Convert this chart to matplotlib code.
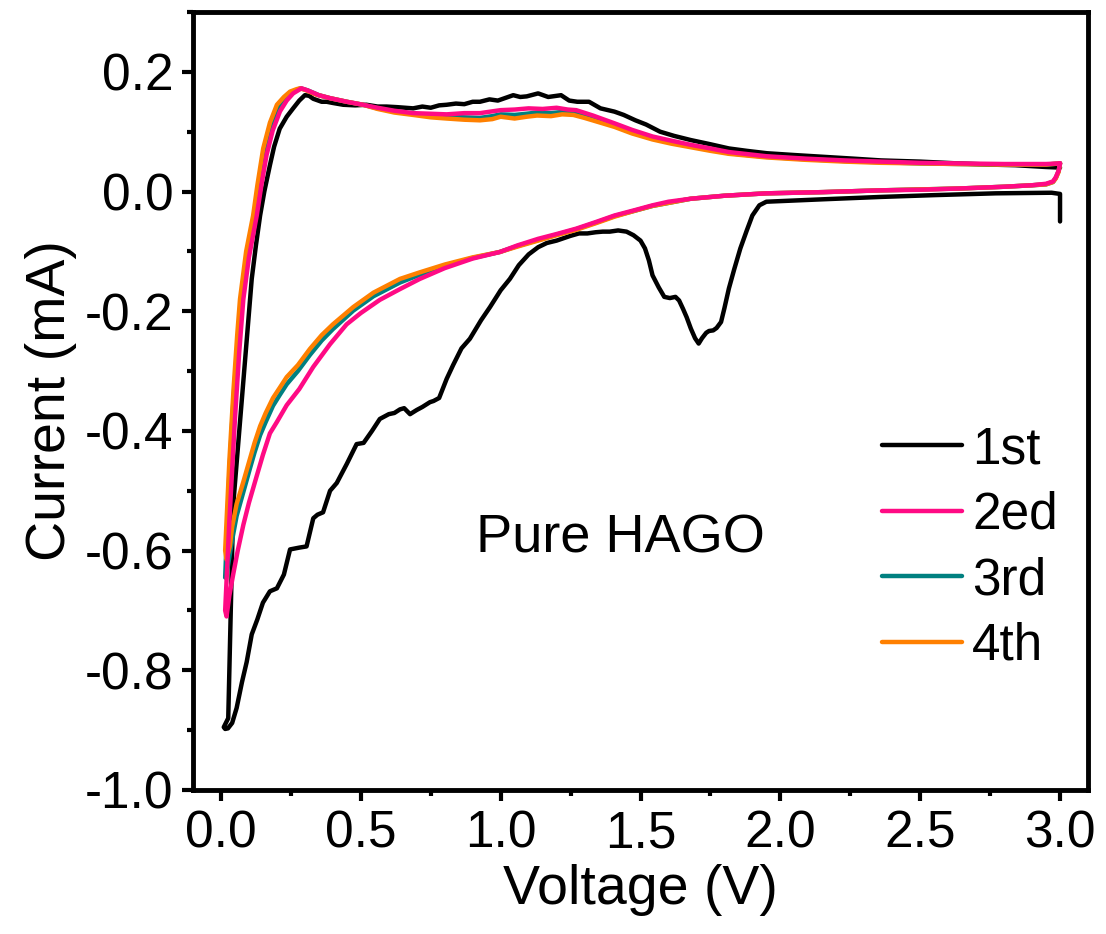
import numpy as np
import matplotlib
matplotlib.use("Agg")
import matplotlib.pyplot as plt
from matplotlib.ticker import MultipleLocator, FormatStrFormatter

plt.rcParams['font.family'] = ['Liberation Sans', 'DejaVu Sans']

labels = ['1st', '2ed', '3rd', '4th']
colors = ['#000000', '#FF0A84', '#008080', '#FF8000']
xticks = [0.0, 0.5, 1.0, 1.5, 2.0, 2.5, 3.0]
yticks = [-1.0, -0.8, -0.6, -0.4, -0.2, 0.0, 0.2]

# (voltage V, current mA), one full sweep per cycle
cycle1 = [
    (3.00, -0.050), (3.00, -0.004), (2.97, -0.002), (2.77, -0.003), (2.55, -0.006),
    (2.36, -0.009), (2.15, -0.013), (1.95, -0.017), (1.925, -0.023), (1.90, -0.040),
    (1.88, -0.065), (1.857, -0.095), (1.835, -0.130), (1.816, -0.162), (1.80, -0.195),
    (1.788, -0.218), (1.772, -0.228), (1.76, -0.232), (1.745, -0.233), (1.735, -0.236),
    (1.72, -0.245), (1.708, -0.254), (1.695, -0.245), (1.68, -0.229), (1.665, -0.210),
    (1.652, -0.196), (1.638, -0.182), (1.625, -0.176), (1.605, -0.178), (1.585, -0.176),
    (1.565, -0.160), (1.543, -0.140), (1.53, -0.115), (1.516, -0.095), (1.50, -0.082),
    (1.475, -0.073), (1.45, -0.067), (1.42, -0.065), (1.39, -0.067), (1.365, -0.067),
    (1.34, -0.068), (1.31, -0.070), (1.28, -0.070), (1.25, -0.074), (1.20, -0.082),
    (1.165, -0.086), (1.134, -0.093), (1.10, -0.105), (1.065, -0.123), (1.033, -0.146),
    (1.00, -0.165), (0.962, -0.193), (0.93, -0.215), (0.89, -0.246), (0.86, -0.262),
    (0.83, -0.290), (0.807, -0.313), (0.78, -0.345), (0.76, -0.350), (0.747, -0.352),
    (0.72, -0.360), (0.70, -0.365), (0.676, -0.372), (0.655, -0.362), (0.64, -0.364),
    (0.62, -0.370), (0.60, -0.372), (0.568, -0.380), (0.54, -0.400), (0.51, -0.420),
    (0.485, -0.422), (0.45, -0.455), (0.414, -0.487), (0.39, -0.500), (0.365, -0.536),
    (0.345, -0.540), (0.33, -0.546), (0.315, -0.575), (0.306, -0.593), (0.28, -0.595),
    (0.247, -0.598), (0.225, -0.640), (0.20, -0.663), (0.175, -0.668), (0.15, -0.687),
    (0.13, -0.715), (0.11, -0.740), (0.092, -0.786), (0.075, -0.820), (0.056, -0.863),
    (0.04, -0.888), (0.025, -0.897), (0.015, -0.898), (0.010, -0.895),
    (0.026, -0.880), (0.044, -0.522), (0.11, -0.146), (0.125, -0.090), (0.14, -0.040),
    (0.155, 0.000), (0.175, 0.044), (0.19, 0.075), (0.21, 0.105), (0.235, 0.125),
    (0.258, 0.139), (0.28, 0.152), (0.30, 0.161), (0.315, 0.160), (0.33, 0.155),
    (0.342, 0.153), (0.36, 0.150), (0.378, 0.150), (0.40, 0.148), (0.437, 0.145),
    (0.48, 0.144), (0.52, 0.145), (0.56, 0.142), (0.592, 0.142), (0.63, 0.141),
    (0.687, 0.139), (0.72, 0.142), (0.75, 0.140), (0.78, 0.144), (0.807, 0.145),
    (0.84, 0.147), (0.87, 0.146), (0.90, 0.150), (0.926, 0.150), (0.96, 0.154),
    (0.99, 0.152), (1.02, 0.157), (1.045, 0.161), (1.07, 0.158), (1.093, 0.159),
    (1.134, 0.164), (1.17, 0.158), (1.216, 0.161), (1.245, 0.152), (1.274, 0.150),
    (1.316, 0.150), (1.357, 0.139), (1.407, 0.1335), (1.44, 0.128), (1.482, 0.119),
    (1.52, 0.112), (1.57, 0.100), (1.62, 0.093), (1.68, 0.086), (1.75, 0.079),
    (1.816, 0.072), (1.88, 0.068), (1.952, 0.064), (2.05, 0.061), (2.156, 0.058),
    (2.26, 0.055), (2.36, 0.052), (2.50, 0.050), (2.635, 0.047), (2.75, 0.045),
    (2.84, 0.044), (2.95, 0.041), (3.00, 0.040),
]

cycle2 = [
    (3.00, 0.047), (2.995, 0.035), (2.985, 0.024), (2.975, 0.017), (2.95, 0.013),
    (2.90, 0.0105), (2.80, 0.008), (2.635, 0.005), (2.50, 0.003), (2.36, 0.002),
    (2.15, -0.001), (1.95, -0.003), (1.80, -0.007), (1.68, -0.012), (1.60, -0.017),
    (1.543, -0.023), (1.48, -0.031), (1.407, -0.040), (1.34, -0.051), (1.27, -0.062),
    (1.20, -0.071), (1.134, -0.079), (1.06, -0.090), (0.997, -0.101), (0.90, -0.112),
    (0.80, -0.128), (0.711, -0.146), (0.64, -0.163), (0.568, -0.181), (0.50, -0.203),
    (0.449, -0.222), (0.39, -0.255), (0.33, -0.293), (0.28, -0.330), (0.235, -0.357),
    (0.20, -0.385), (0.175, -0.404), (0.15, -0.440), (0.128, -0.475), (0.10, -0.520),
    (0.08, -0.557), (0.06, -0.600), (0.044, -0.639), (0.03, -0.675), (0.02, -0.710),
    (0.015, -0.700), (0.03, -0.550), (0.05, -0.380), (0.065, -0.270), (0.08, -0.180),
    (0.10, -0.110), (0.128, -0.040), (0.145, 0.012), (0.163, 0.061), (0.185, 0.102),
    (0.211, 0.134), (0.235, 0.152), (0.258, 0.164), (0.288, 0.1725), (0.31, 0.169),
    (0.35, 0.161), (0.39, 0.156), (0.45, 0.150), (0.508, 0.145), (0.56, 0.140),
    (0.62, 0.135), (0.687, 0.131), (0.75, 0.130), (0.807, 0.129), (0.87, 0.131),
    (0.926, 0.131), (0.97, 0.134), (1.00, 0.136), (1.05, 0.137), (1.10, 0.139),
    (1.15, 0.138), (1.20, 0.140), (1.24, 0.137), (1.27, 0.136), (1.33, 0.127),
    (1.407, 0.114), (1.47, 0.103), (1.543, 0.092), (1.61, 0.085), (1.68, 0.078),
    (1.75, 0.072), (1.816, 0.066), (1.95, 0.059), (2.09, 0.055), (2.23, 0.052),
    (2.36, 0.050), (2.50, 0.048), (2.635, 0.047), (2.80, 0.046), (2.95, 0.046),
    (3.00, 0.047),
]

cycle3 = [
    (3.00, 0.047), (2.995, 0.034), (2.985, 0.023), (2.975, 0.016), (2.95, 0.012),
    (2.90, 0.0105), (2.80, 0.008), (2.635, 0.005), (2.36, 0.002), (2.15, -0.001),
    (1.95, -0.003), (1.80, -0.007), (1.68, -0.012), (1.543, -0.024), (1.48, -0.032),
    (1.407, -0.041), (1.34, -0.052), (1.27, -0.063), (1.20, -0.072), (1.134, -0.081),
    (1.06, -0.091), (0.997, -0.101), (0.90, -0.111), (0.80, -0.124), (0.711, -0.139),
    (0.64, -0.152), (0.545, -0.175), (0.473, -0.199), (0.40, -0.230), (0.36, -0.249),
    (0.318, -0.273), (0.275, -0.300), (0.235, -0.322), (0.21, -0.340), (0.186, -0.358),
    (0.16, -0.385), (0.14, -0.407), (0.12, -0.436), (0.104, -0.462), (0.08, -0.502),
    (0.056, -0.542), (0.04, -0.582), (0.032, -0.605), (0.02, -0.640),
    (0.015, -0.645), (0.03, -0.470), (0.045, -0.345), (0.06, -0.250), (0.074, -0.180),
    (0.095, -0.100), (0.12, -0.040), (0.136, 0.010), (0.157, 0.067), (0.18, 0.112),
    (0.205, 0.142), (0.23, 0.157), (0.252, 0.166), (0.285, 0.1725), (0.31, 0.169),
    (0.35, 0.161), (0.39, 0.156), (0.45, 0.150), (0.508, 0.145), (0.56, 0.139),
    (0.62, 0.134), (0.687, 0.130), (0.75, 0.127), (0.807, 0.125), (0.87, 0.124),
    (0.926, 0.123), (0.97, 0.126), (1.00, 0.129), (1.05, 0.128), (1.093, 0.130),
    (1.13, 0.132), (1.18, 0.131), (1.22, 0.133), (1.26, 0.132), (1.30, 0.126),
    (1.35, 0.119), (1.407, 0.111), (1.47, 0.100), (1.543, 0.089), (1.61, 0.082),
    (1.68, 0.076), (1.75, 0.070), (1.816, 0.064), (1.95, 0.058), (2.09, 0.054),
    (2.23, 0.051), (2.36, 0.049), (2.50, 0.047), (2.635, 0.046), (2.80, 0.045),
    (2.95, 0.045), (3.00, 0.047),
]

cycle4 = [
    (3.00, 0.047), (2.995, 0.033), (2.985, 0.022), (2.975, 0.016), (2.95, 0.012),
    (2.90, 0.0105), (2.80, 0.008), (2.635, 0.005), (2.36, 0.002), (2.15, -0.001),
    (1.95, -0.003), (1.80, -0.007), (1.68, -0.012), (1.543, -0.024), (1.48, -0.032),
    (1.407, -0.042), (1.34, -0.053), (1.27, -0.064), (1.20, -0.073), (1.134, -0.082),
    (1.06, -0.092), (0.997, -0.101), (0.90, -0.110), (0.80, -0.122), (0.711, -0.135),
    (0.64, -0.146), (0.545, -0.169), (0.473, -0.193), (0.40, -0.222), (0.36, -0.240),
    (0.318, -0.263), (0.275, -0.290), (0.235, -0.310), (0.21, -0.328), (0.186, -0.345),
    (0.16, -0.370), (0.14, -0.392), (0.12, -0.420), (0.104, -0.446), (0.08, -0.485),
    (0.056, -0.522), (0.04, -0.560), (0.032, -0.592), (0.02, -0.615),
    (0.015, -0.600), (0.03, -0.450), (0.045, -0.330), (0.058, -0.240), (0.068, -0.180),
    (0.09, -0.100), (0.115, -0.040), (0.13, 0.010), (0.151, 0.072), (0.175, 0.115),
    (0.20, 0.145), (0.225, 0.158), (0.247, 0.167), (0.27, 0.171), (0.282, 0.1725),
    (0.30, 0.170), (0.34, 0.162), (0.39, 0.156), (0.45, 0.150), (0.508, 0.145),
    (0.56, 0.138), (0.62, 0.132), (0.687, 0.128), (0.75, 0.124), (0.807, 0.122),
    (0.87, 0.120), (0.926, 0.119), (0.97, 0.121), (1.00, 0.125), (1.05, 0.122),
    (1.093, 0.125), (1.13, 0.127), (1.18, 0.126), (1.22, 0.129), (1.26, 0.128),
    (1.30, 0.123), (1.35, 0.116), (1.407, 0.108), (1.47, 0.097), (1.543, 0.087),
    (1.61, 0.080), (1.68, 0.074), (1.75, 0.068), (1.816, 0.063), (1.95, 0.057),
    (2.09, 0.053), (2.23, 0.050), (2.36, 0.048), (2.50, 0.047), (2.635, 0.046),
    (2.80, 0.045), (2.95, 0.045), (3.00, 0.047),
]

cycles = [cycle1, cycle2, cycle3, cycle4]
zorders = [2, 5, 3, 4]

fig = plt.figure(figsize=(11.06, 9.34), dpi=100)
ax = fig.add_axes([193 / 1106, 1 - 790 / 934, 895 / 1106, 778 / 934])

for data, lab, col, z in zip(cycles, labels, colors, zorders):
    d = np.array(data)
    ax.plot(d[:, 0], d[:, 1], color=col, lw=3.2, label=lab, zorder=z,
            solid_joinstyle='round', solid_capstyle='round')

ax.set_xlim(-0.1, 3.1)
ax.set_ylim(-1.0, 0.3)
ax.set_xticks(xticks)
ax.set_yticks(yticks)
ax.xaxis.set_minor_locator(MultipleLocator(0.25))
ax.yaxis.set_minor_locator(MultipleLocator(0.1))
ax.xaxis.set_major_formatter(FormatStrFormatter('%.1f'))
ax.yaxis.set_major_formatter(FormatStrFormatter('%.1f'))

for s in ax.spines.values():
    s.set_linewidth(3.5)
ax.tick_params(which='major', direction='out', length=8, width=3, labelsize=37, pad=6)
ax.tick_params(which='minor', direction='out', length=4, width=3)
ax.tick_params(top=False, right=False, which='both')

ax.set_xlabel('Voltage (V)', fontsize=40, labelpad=4)
ax.set_ylabel('Current (mA)', fontsize=40, labelpad=6)

ax.text(1.43, -0.58, 'Pure HAGO', fontsize=39, ha='center', va='center')

ax.legend(loc='center left', bbox_to_anchor=(0.77, 0.311), frameon=False,
          fontsize=37, handlelength=1.55, handletextpad=0.2, labelspacing=0.32,
          borderpad=0, borderaxespad=0)

fig.savefig('out.png', dpi=100)
